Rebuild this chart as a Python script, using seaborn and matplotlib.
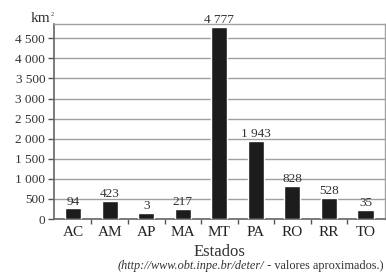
import matplotlib
matplotlib.use('Agg')
import matplotlib.pyplot as plt
import seaborn as sns
import pandas as pd

# Data
estados = ['AC', 'AM', 'AP', 'MA', 'MT', 'PA', 'RO', 'RR', 'TO']
valores = [94, 423, 3, 217, 4777, 1943, 828, 528, 35]          # printed labels
alturas = [266, 448, 142, 256, 4777, 1943, 828, 528, 224]      # bar heights as drawn
y_ticks = [0, 500, 1000, 1500, 2000, 2500, 3000, 3500, 4000, 4500]
y_labels = ['0', '500', '1 000', '1 500', '2 000', '2 500', '3 000', '3 500', '4 000', '4 500']

df = pd.DataFrame({'estado': estados, 'altura': alturas, 'valor': valores})

sns.set_style('white')
plt.rcParams['font.family'] = ['Liberation Serif', 'DejaVu Serif']

fig = plt.figure(figsize=(3.86, 2.76), dpi=100)
ax = fig.add_axes([53.5 / 386, 57 / 276, 331 / 386, 195 / 276])

sns.barplot(data=df, x='estado', y='altura', color='#1c1c1c', saturation=1,
            width=0.44, ax=ax, zorder=3)

# value labels above the bars
for i, (h, v) in enumerate(zip(alturas, valores)):
    txt = f'{v:,}'.replace(',', ' ')
    ax.text(i, h + 20, txt, ha='center', va='bottom', fontsize=9.5, color='#333333')

ax.set_ylim(0, 4855)
ax.set_xlim(-0.54, 8.52)
ax.set_yticks(y_ticks)
ax.set_yticklabels(y_labels, fontsize=9.5, color='#333333')
ax.yaxis.grid(True, color='#a0a0a0', linewidth=1.0, zorder=0)
ax.set_axisbelow(True)
ax.tick_params(axis='y', length=4, width=1, color='#555555', pad=2, left=True)

# category labels without ticks, small ticks between categories
ax.set_xticks(range(len(estados)))
ax.set_xticklabels(estados, fontsize=11, color='#222222')
ax.tick_params(axis='x', which='major', length=0, pad=5)
ax.set_xticks([i + 0.5 for i in range(len(estados) - 1)], minor=True)
ax.tick_params(axis='x', which='minor', length=3.5, width=1, color='#555555', bottom=True)

ax.set_xlabel('Estados', fontsize=12, color='#333333', labelpad=4)
ax.set_ylabel('')

for side in ['left', 'bottom']:
    ax.spines[side].set_color('#666666')
    ax.spines[side].set_linewidth(1.2)
for side in ['top', 'right']:
    ax.spines[side].set_color('#a0a0a0')
    ax.spines[side].set_linewidth(1.0)

fig.text(50 / 386, 1 - 22 / 276, 'km', ha='right', va='baseline', fontsize=11,
         color='#333333')
fig.text(50.5 / 386, 1 - 16 / 276, '2', ha='left', va='baseline', fontsize=4.5,
         color='#333333')

# source line: italic url then regular note, right aligned
fig.canvas.draw()
renderer = fig.canvas.get_renderer()
t2 = fig.text(384 / 386, 1 - 269 / 276, ' - valores aproximados.)', ha='right',
              va='baseline', fontsize=8.8, color='#333333')
bb = t2.get_window_extent(renderer)
fig.text(bb.x0 / fig.bbox.width, 1 - 269 / 276, '(http://www.obt.inpe.br/deter/',
         ha='right', va='baseline', fontsize=8.8, color='#333333', style='italic')

fig.savefig('out.png', dpi=100)
